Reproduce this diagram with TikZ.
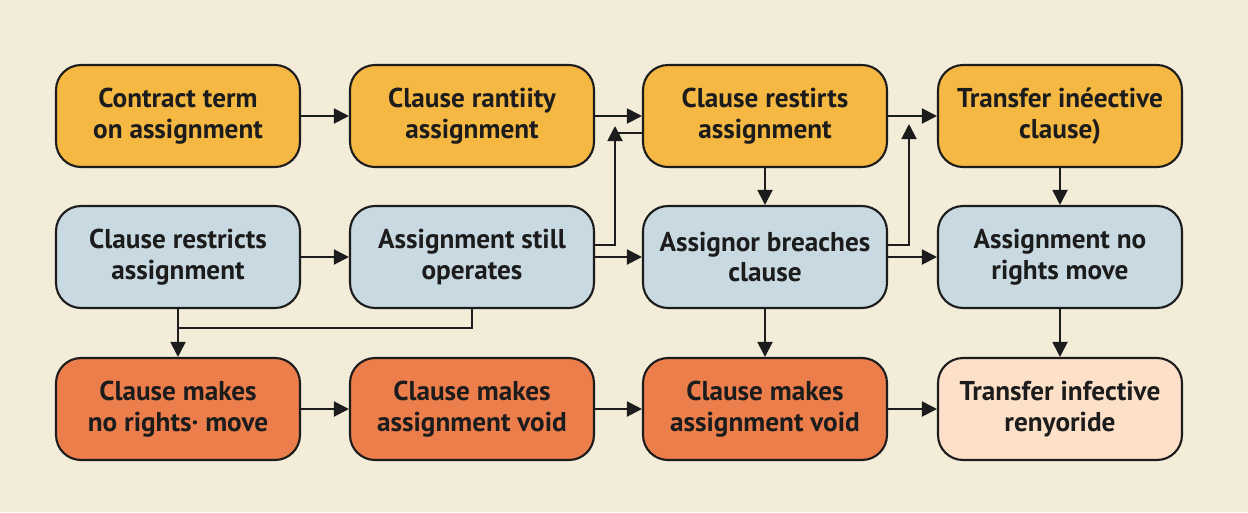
\documentclass[tikz,border=0pt]{standalone}
\usepackage{fontspec}
\setmainfont{PT Sans}
\usepackage{tikz}
\usetikzlibrary{arrows.meta}

\definecolor{bgcream}{HTML}{F2ECD8}
\definecolor{inkline}{HTML}{1C1C1C}
\definecolor{boxyellow}{HTML}{F5B843}
\definecolor{boxblue}{HTML}{C9D9E1}
\definecolor{boxorange}{HTML}{EC7E4B}
\definecolor{boxpeach}{HTML}{FDE0C8}

\tikzset{
  box/.style={draw=inkline, line width=1.2pt, rounded corners=0.5cm,
    minimum width=4.88cm, minimum height=2.04cm, inner sep=0pt,
    align=center, text=inkline, font=\fontsize{15.5}{17.5}\selectfont\bfseries},
  flow/.style={draw=inkline, line width=1.1pt, -{Triangle[length=0.3cm,width=0.3cm]}},
  link/.style={draw=inkline, line width=1.1pt}
}

\begin{document}
\begin{tikzpicture}[x=0.02cm, y=-0.02cm]
      % 1. 背景
      \fill[bgcream] (0,0) rectangle (1248,512);
      \useasboundingbox (0,0) rectangle (1248,512);

      % 2. 第一列
      \node[box, fill=boxyellow] (term) at (178,116) {Contract term\\on assignment};
      \node[box, fill=boxyellow] (rantiity) at (472,116) {Clause rantiity\\assignment};
      \node[box, fill=boxyellow] (restirts) at (765,116) {Clause restirts\\assignment};
      \node[box, fill=boxyellow] (ineffect) at (1060,116) {Transfer inéective\\clause)};

      % 3. 第二列
      \node[box, fill=boxblue] (restricts) at (178,257) {Clause restricts\\assignment};
      \node[box, fill=boxblue] (still) at (472,257) {Assignment still\\operates};
      \node[box, fill=boxblue] (breach) at (765,257) {Assignor breaches\\clause};
      \node[box, fill=boxblue] (norights) at (1060,257) {Assignment no\\rights move};

      % 4. 第三列
      \node[box, fill=boxorange] (makesA) at (178,409) {Clause makes\\no rights· move};
      \node[box, fill=boxorange] (makesB) at (472,409) {Clause makes\\assignment void};
      \node[box, fill=boxorange] (makesC) at (765,409) {Clause makes\\assignment void};
      \node[box, fill=boxpeach] (renyo) at (1060,409) {Transfer infective\\renyoride};

      % 5. 折線用的點
      \coordinate (upA) at (615,126);
      \coordinate (kneeA) at (615,133);
      \coordinate (upB) at (909,124);
      \coordinate (mergeY) at (0,328);

      % 6. 橫向箭頭
      \draw[flow] (term) -- (rantiity);
      \draw[flow] (rantiity) -- (restirts);
      \draw[flow] (restirts) -- (ineffect);
      \draw[flow] (restricts) -- (still);
      \draw[flow] (still) -- (breach);
      \draw[flow] (breach) -- (norights);
      \draw[flow] (makesA) -- (makesB);
      \draw[flow] (makesB) -- (makesC);
      \draw[flow] (makesC) -- (renyo);

      % 7. 縱向箭頭
      \draw[flow] (restirts) -- (breach);
      \draw[flow] (ineffect) -- (norights);
      \draw[flow] (breach) -- (makesC);
      \draw[flow] (norights) -- (renyo);
      \draw[flow] (restricts) -- (makesA);

      % 8. 折線
      \draw[link] (still.south) |- (restricts.south |- mergeY);
      \draw[flow] ([yshift=0.24cm]still.east) -| (upA);
      \draw[link] (kneeA) -- (kneeA -| restirts.west);
      \draw[flow] ([yshift=0.24cm]breach.east) -| (upB);
    \end{tikzpicture}
\end{document}
